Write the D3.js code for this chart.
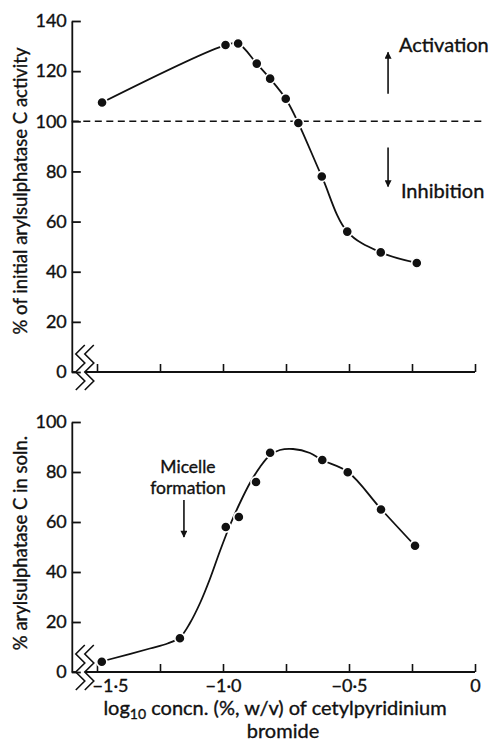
<!DOCTYPE html>
<html>
<head>
<meta charset="utf-8">
<script src="https://cdn.jsdelivr.net/npm/d3@7/dist/d3.min.js"></script>
<style>
  body { margin: 0; background: #fff; }
  text { font-family: Lato, "Open Sans", sans-serif; fill: #111; stroke: #111; stroke-width: 0.35px; }
</style>
</head>
<body>
<div id="chart-area"></div>
<script>
// x ticks (log10 concn.) shared by both panels
var xTicks = [-1.5, -1.25, -1.0, -0.75, -0.5, -0.25, 0];
var xTickLabels = ["\u22121\u00b75", "", "\u22121\u00b70", "", "\u22120\u00b75", "", "0"];

// top panel: % of initial activity
var topTicks = [0, 20, 40, 60, 80, 100, 120, 140];
var topConc = [-1.48, -0.99, -0.94, -0.866, -0.813, -0.751, -0.701, -0.608, -0.507, -0.374, -0.231];
var topActivity = [107.5, 130.4, 131, 123, 117, 109, 99.3, 78, 56, 47.7, 43.5];

// bottom panel: % in solution (points and the hand-drawn curve)
var botTicks = [0, 20, 40, 60, 80, 100];
var botConc = [-1.481, -1.171, -0.989, -0.937, -0.869, -0.813, -0.606, -0.505, -0.373, -0.238];
var botSoln = [4.1, 13.5, 58, 62, 76, 87.7, 84.8, 79.9, 65, 50.5];
var curveConc = [-1.46, -1.29, -1.22, -1.171, -1.131, -1.091, -1.052, -1.012, -0.972, -0.933, -0.893, -0.853, -0.813, -0.774, -0.722, -0.655, -0.607, -0.504, -0.373, -0.238];
var curveSoln = [4.8, 9.4, 11.4, 13.8, 19.6, 27.6, 37.2, 48.4, 58.8, 67.6, 75.6, 82, 86.8, 88.8, 89.2, 87.6, 84.8, 80, 65.2, 50.5];

var width = 489, height = 742;

var svg = d3.select("#chart-area")
    .append("svg")
        .attr("width", width)
        .attr("height", height);

var defs = svg.append("defs");
defs.append("marker")
    .attr("id", "head")
    .attr("viewBox", "0 0 10 10")
    .attr("refX", 9).attr("refY", 5)
    .attr("markerWidth", 10).attr("markerHeight", 7)
    .attr("markerUnits", "userSpaceOnUse")
    .attr("orient", "auto")
  .append("path")
    .attr("d", "M0,0L10,5L0,10Z")
    .attr("fill", "#111");

var x = d3.scaleLinear().domain([-1.5, 0]).range([97, 475]);
var axisX = x(-1.6);

var yTop = d3.scaleLinear().domain([0, 140]).range([372, 21]);
var yBot = d3.scaleLinear().domain([0, 100]).range([672, 422]);

function drawPanel(y, ticks, labels) {
    var g = svg.append("g");

    // y axis, ticks pointing inwards
    g.append("g")
        .attr("transform", "translate(" + axisX + ",0)")
        .call(d3.axisLeft(y).tickValues(ticks).tickSizeInner(-9).tickSizeOuter(0).tickPadding(5))
        .attr("font-size", 18)
        .attr("font-family", "Lato, 'Open Sans', sans-serif")
        .call(s => s.selectAll("path, line").attr("stroke", "#111").attr("stroke-width", 1.8))
        .call(s => s.selectAll("text").attr("fill", "#111"));

    // x axis, ticks pointing up
    var y0 = y(0);
    var xa = g.append("g")
        .attr("transform", "translate(0," + y0 + ")")
        .call(d3.axisBottom(x).tickValues(xTicks).tickSizeInner(-8).tickSizeOuter(0).tickPadding(7)
            .tickFormat((d, i) => labels ? labels[i] : ""))
        .attr("font-size", 18)
        .attr("font-family", "Lato, 'Open Sans', sans-serif");
    xa.select(".domain").remove();
    xa.selectAll("line").attr("stroke", "#111").attr("stroke-width", 1.6);
    xa.selectAll("text").attr("fill", "#111")
        .attr("dx", (d, i) => i === 0 ? 13 : 0);

    // broken x axis line
    g.append("line")
        .attr("x1", axisX).attr("x2", axisX + 4)
        .attr("y1", y0).attr("y2", y0)
        .attr("stroke", "#111").attr("stroke-width", 1.8);
    g.append("line")
        .attr("x1", axisX + 13).attr("x2", x(0))
        .attr("y1", y0).attr("y2", y0)
        .attr("stroke", "#111").attr("stroke-width", 1.8);

    // break zigzags
    var zig = [[9, -27], [0, -18], [9, -9], [0, 0], [9, 9], [0, 18]];
    [axisX + 4, axisX + 13].forEach(function (x0) {
        g.append("polyline")
            .attr("points", zig.map(p => (x0 + p[0]) + "," + (y0 + p[1])).join(" "))
            .attr("fill", "none")
            .attr("stroke", "#111")
            .attr("stroke-width", 1.6);
    });
    return g;
}

var gTop = drawPanel(yTop, topTicks, null);
var gBot = drawPanel(yBot, botTicks, xTickLabels);

// dashed 100% line
gTop.append("line")
    .attr("x1", axisX).attr("x2", x(0) + 10)
    .attr("y1", yTop(100)).attr("y2", yTop(100))
    .attr("stroke", "#111")
    .attr("stroke-width", 1.6)
    .attr("stroke-dasharray", "7,4.5");

// top curve + dots
var topData = topConc.map((c, i) => [c, topActivity[i]]);
gTop.append("path")
    .datum(topData)
    .attr("fill", "none")
    .attr("stroke", "#111")
    .attr("stroke-width", 1.8)
    .attr("d", d3.line().x(d => x(d[0])).y(d => yTop(d[1])).curve(d3.curveCatmullRom.alpha(0.5)));
gTop.selectAll("circle")
    .data(topData)
    .enter()
    .append("circle")
        .attr("cx", d => x(d[0]))
        .attr("cy", d => yTop(d[1]))
        .attr("r", 5.1)
        .attr("fill", "#111")
        .attr("stroke", "#fff")
        .attr("stroke-width", 1.6);

// bottom curve + dots
var curveData = curveConc.map((c, i) => [c, curveSoln[i]]);
gBot.append("path")
    .datum(curveData)
    .attr("fill", "none")
    .attr("stroke", "#111")
    .attr("stroke-width", 1.8)
    .attr("d", d3.line().x(d => x(d[0])).y(d => yBot(d[1])).curve(d3.curveCatmullRom.alpha(0.5)));
var botData = botConc.map((c, i) => [c, botSoln[i]]);
gBot.selectAll("circle")
    .data(botData)
    .enter()
    .append("circle")
        .attr("cx", d => x(d[0]))
        .attr("cy", d => yBot(d[1]))
        .attr("r", 5.1)
        .attr("fill", "#111")
        .attr("stroke", "#fff")
        .attr("stroke-width", 1.6);

// annotations
function arrow(g, y, xv, from, to) {
    g.append("line")
        .attr("x1", x(xv)).attr("x2", x(xv))
        .attr("y1", y(from)).attr("y2", y(to))
        .attr("stroke", "#111")
        .attr("stroke-width", 1.6)
        .attr("marker-end", "url(#head)");
}
arrow(gTop, yTop, -0.345, 111, 127.5);
arrow(gTop, yTop, -0.345, 89.5, 74);
gTop.append("text").attr("x", x(-0.302)).attr("y", yTop(127.5)).attr("font-size", 20).text("Activation");
gTop.append("text").attr("x", x(-0.294)).attr("y", yTop(69.5)).attr("font-size", 20).text("Inhibition");

arrow(gBot, yBot, -1.155, 68.8, 54);
var mic = gBot.append("text")
    .attr("y", yBot(79.6))
    .attr("font-size", 17.5)
    .attr("text-anchor", "middle");
mic.append("tspan").attr("x", x(-1.139)).text("Micelle");
mic.append("tspan").attr("x", x(-1.139)).attr("dy", 21).text("formation");

// axis titles
svg.append("text")
    .attr("transform", "translate(27,191) rotate(-90)")
    .attr("text-anchor", "middle")
    .attr("font-size", 18.5)
    .text("% of initial arylsulphatase C activity");
svg.append("text")
    .attr("transform", "translate(27,543) rotate(-90)")
    .attr("text-anchor", "middle")
    .attr("font-size", 18.5)
    .text("% arylsulphatase C in soln.");

var xt = svg.append("text")
    .attr("x", 275).attr("y", 715)
    .attr("text-anchor", "middle")
    .attr("font-size", 20);
xt.append("tspan").text("log");
xt.append("tspan").attr("font-size", 14).attr("dy", 4).text("10");
xt.append("tspan").attr("dy", -4).text(" concn. (%, w/v) of cetylpyridinium");
svg.append("text")
    .attr("x", 283).attr("y", 738)
    .attr("text-anchor", "middle")
    .attr("font-size", 20)
    .text("bromide");
</script>
</body>
</html>
